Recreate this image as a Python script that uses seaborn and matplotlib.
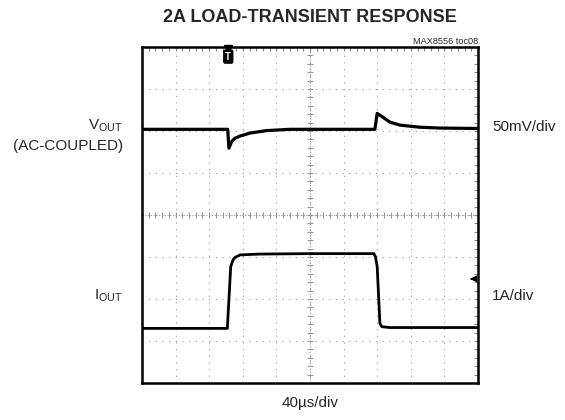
import numpy as np
import pandas as pd
import seaborn as sns
import matplotlib.pyplot as plt
from matplotlib.ticker import MultipleLocator

# scope settings: 40us/div, 50mV/div, 1A/div
time_div = 40.0
vout_div = 50.0
iout_div = 1.0

# VOUT (AC-coupled) deviation
vout_t = [0, 102, 103.5, 106.8, 110.8, 116.8, 128.4, 148.4, 176, 200, 277.2, 280, 288, 295.2, 307.2, 330.8, 354.8, 400]
vout_mv = [0, 0, -22.5, -14.5, -10.5, -8, -4.5, -1.5, 0, 0, 0, 19, 13.5, 8.5, 5, 2.5, 1.5, 1]

# IOUT step, A above the low level
iout_t = [0, 101.6, 105.6, 108.4, 110.8, 116.8, 140.4, 200, 276, 278, 280, 283.2, 285.6, 295.2, 400]
iout_a = [0, 0, 1.47, 1.63, 1.69, 1.75, 1.77, 1.78, 1.78, 1.70, 1.47, 0.12, 0.04, 0.02, 0.02]

# channel positions on screen (divisions from centre)
vout_pos = 2.04
iout_pos = -2.70
trig_t = 102.7
ch2_marker = -1.52

sns.set_style("white")
plt.rcParams['font.family'] = ['Liberation Sans', 'DejaVu Sans']
plt.rcParams['mathtext.fontset'] = 'custom'
plt.rcParams['mathtext.rm'] = 'Liberation Sans'

df_v = pd.DataFrame({'t': vout_t, 'y': vout_pos + np.array(vout_mv) / vout_div})
df_i = pd.DataFrame({'t': iout_t, 'y': iout_pos + np.array(iout_a) / iout_div})

fig = plt.figure(figsize=(5.65, 4.2), dpi=100)
ax = fig.add_axes([142 / 565, 1 - 383 / 420, 336 / 565, 336 / 420])

# graticule
ax.set_xlim(0, 10 * time_div)
ax.set_ylim(-4, 4)
ax.xaxis.set_major_locator(MultipleLocator(time_div))
ax.xaxis.set_minor_locator(MultipleLocator(time_div / 5))
ax.yaxis.set_major_locator(MultipleLocator(1))
ax.yaxis.set_minor_locator(MultipleLocator(0.2))
ax.grid(True, which='major', color='#999999', linestyle=(0, (1, 5)), linewidth=0.8)
ax.tick_params(which='both', direction='in', length=3, width=0.8, color='#888888',
               top=True, right=True, labelleft=False, labelbottom=False)
ax.axhline(0, color='#999999', linestyle=(0, (1, 1.5)), linewidth=0.8)
ax.axvline(5 * time_div, color='#999999', linestyle=(0, (1, 1.5)), linewidth=0.8)
minor_x = np.arange(0, 10 * time_div + 0.1, time_div / 5)
minor_y = np.arange(-4, 4.01, 0.2)
ax.plot(minor_x, np.zeros_like(minor_x), ls='none', marker='|', ms=4, mew=0.8, color='#999999')
ax.plot(np.full_like(minor_y, 5 * time_div), minor_y, ls='none', marker='_', ms=4, mew=0.8, color='#999999')
for s in ax.spines.values():
    s.set_color('black')
    s.set_linewidth(1.8)

# traces
sns.lineplot(data=df_v, x='t', y='y', ax=ax, color='black', linewidth=2.3, sort=False, estimator=None)
sns.lineplot(data=df_i, x='t', y='y', ax=ax, color='black', linewidth=2.0, sort=False, estimator=None)
ax.set_xlabel('')
ax.set_ylabel('')

# trigger and channel markers
ax.plot([trig_t], [3.95], marker='v', ms=6, color='black', clip_on=False)
ax.text(trig_t, 3.77, 'T', ha='center', va='center', fontsize=7, fontweight='bold', color='white',
        bbox=dict(boxstyle='round,pad=0.15', fc='black', ec='black'))
ax.annotate('', xy=(387, ch2_marker), xytext=(396, ch2_marker),
            arrowprops=dict(arrowstyle='-|>', color='black', lw=1.0, mutation_scale=9))

# labels
fig.text(310 / 565, 1 - 18 / 420, '2A LOAD-TRANSIENT RESPONSE', ha='center', va='center',
         fontsize=13, fontweight='bold')
fig.text(478 / 565, 1 - 42 / 420, 'MAX8556 toc08', ha='right', va='center', fontsize=6.6)
fig.text(123 / 565, 1 - 126 / 420, r'V$_{\mathregular{OUT}}$', ha='right', va='center', fontsize=11)
fig.text(123 / 565, 1 - 146 / 420, '(AC-COUPLED)', ha='right', va='center', fontsize=11)
fig.text(123 / 565, 1 - 296 / 420, r'I$_{\mathregular{OUT}}$', ha='right', va='center', fontsize=11)
fig.text(492 / 565, 1 - 127 / 420, '50mV/div', ha='left', va='center', fontsize=11)
fig.text(492 / 565, 1 - 296 / 420, '1A/div', ha='left', va='center', fontsize=11)
fig.text(310 / 565, 1 - 403 / 420, '40µs/div', ha='center', va='center', fontsize=11)

fig.savefig('out.png', dpi=100, facecolor='white')
